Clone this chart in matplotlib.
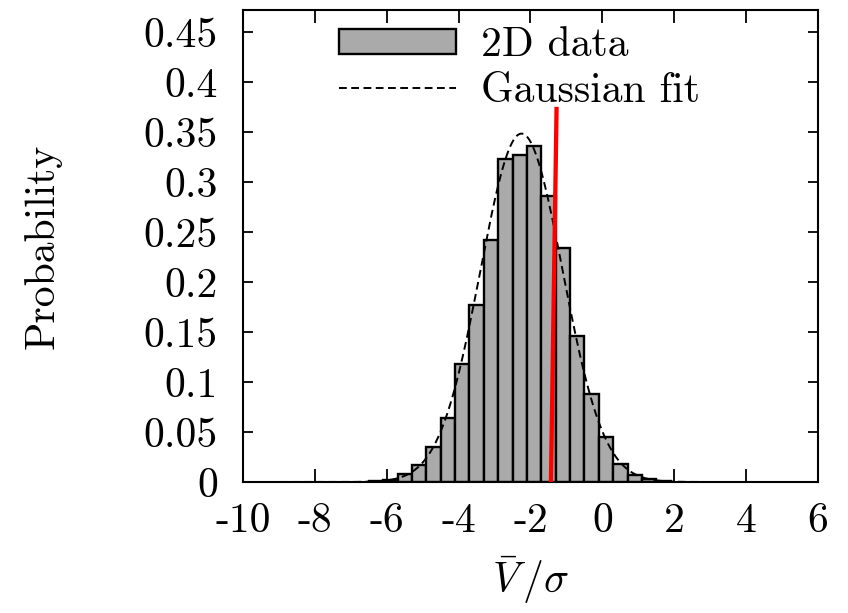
import numpy as np
import matplotlib
matplotlib.use("Agg")
import matplotlib.pyplot as plt

plt.rcParams["font.family"] = ["cmr10", "DejaVu Serif"]
plt.rcParams["mathtext.fontset"] = "cm"
plt.rcParams["axes.unicode_minus"] = False
plt.rcParams["axes.formatter.use_mathtext"] = True

# Histogram of the 2D data: left bin edges and probability density per bin
bin_left = [-6.5, -6.1, -5.7, -5.3, -4.9, -4.5, -4.1, -3.7, -3.3, -2.9, -2.5,
            -2.1, -1.7, -1.3, -0.9, -0.5, -0.1, 0.3, 0.7, 1.1, 1.5]
bin_width = 0.4
probability = [0.001, 0.002, 0.008, 0.017, 0.035, 0.064, 0.118, 0.177, 0.242,
               0.323, 0.327, 0.336, 0.286, 0.234, 0.146, 0.088, 0.045, 0.018,
               0.007, 0.003, 0.001]

# Gaussian fit parameters
fit_mu = -2.25
fit_sigma = 1.145

# Red marker line (x, y end points)
marker_x = [-1.43, -1.275]
marker_y = [0.002, 0.373]

x_ticks = [-10, -8, -6, -4, -2, 0, 2, 4, 6]
x_ticklabels = ["-10", "-8", "-6", "-4", "-2", "0", "2", "4", "6"]
y_ticks = [0, 0.05, 0.1, 0.15, 0.2, 0.25, 0.3, 0.35, 0.4, 0.45]
y_ticklabels = ["0", "0.05", "0.1", "0.15", "0.2", "0.25", "0.3", "0.35", "0.4", "0.45"]

fig = plt.figure(figsize=(8.48, 6.13), dpi=100)
ax = fig.add_axes([243 / 848, 1 - 482 / 613, (818 - 243) / 848, (482 - 10) / 613])

bars = ax.bar(bin_left, probability, width=bin_width, align="edge",
              color="#aaaaaa", edgecolor="black", linewidth=1.7,
              label="2D data", zorder=2)

xs = np.linspace(-10, 6, 800)
gauss = np.exp(-0.5 * ((xs - fit_mu) / fit_sigma) ** 2) / (np.sqrt(2 * np.pi) * fit_sigma)
fit_line, = ax.plot(xs, gauss, color="black", linewidth=1.4,
                    linestyle=(0, (4.0, 2.3)), label="Gaussian fit", zorder=3)

ax.plot(marker_x, marker_y, color="red", linewidth=3.1, zorder=4)

ax.set_xlim(-10, 6)
ax.set_ylim(0, 0.472)
ax.set_xticks(x_ticks)
ax.set_xticklabels(x_ticklabels)
ax.set_yticks(y_ticks)
ax.set_yticklabels(y_ticklabels)
ax.tick_params(axis="both", direction="in", top=True, right=True,
               width=1.3, labelsize=30)
ax.tick_params(axis="x", length=9.5, pad=15)
ax.tick_params(axis="y", length=7.5, pad=18)
for s in ax.spines.values():
    s.set_linewidth(1.5)

ax.set_xlabel(r"$\bar{V}\,/\sigma$", fontsize=30, labelpad=10)
ax.set_ylabel("Probability", fontsize=30)
ax.yaxis.set_label_coords(-0.315, 0.5)

ax.legend(handles=[bars, fit_line], labels=["2D data", "Gaussian fit"],
          loc="upper left", bbox_to_anchor=(0.167, 0.965), frameon=False,
          fontsize=30, handlelength=2.8, handleheight=0.55, handletextpad=0.6,
          labelspacing=0.2, borderpad=0, borderaxespad=0)

fig.savefig("out.png", dpi=100)
